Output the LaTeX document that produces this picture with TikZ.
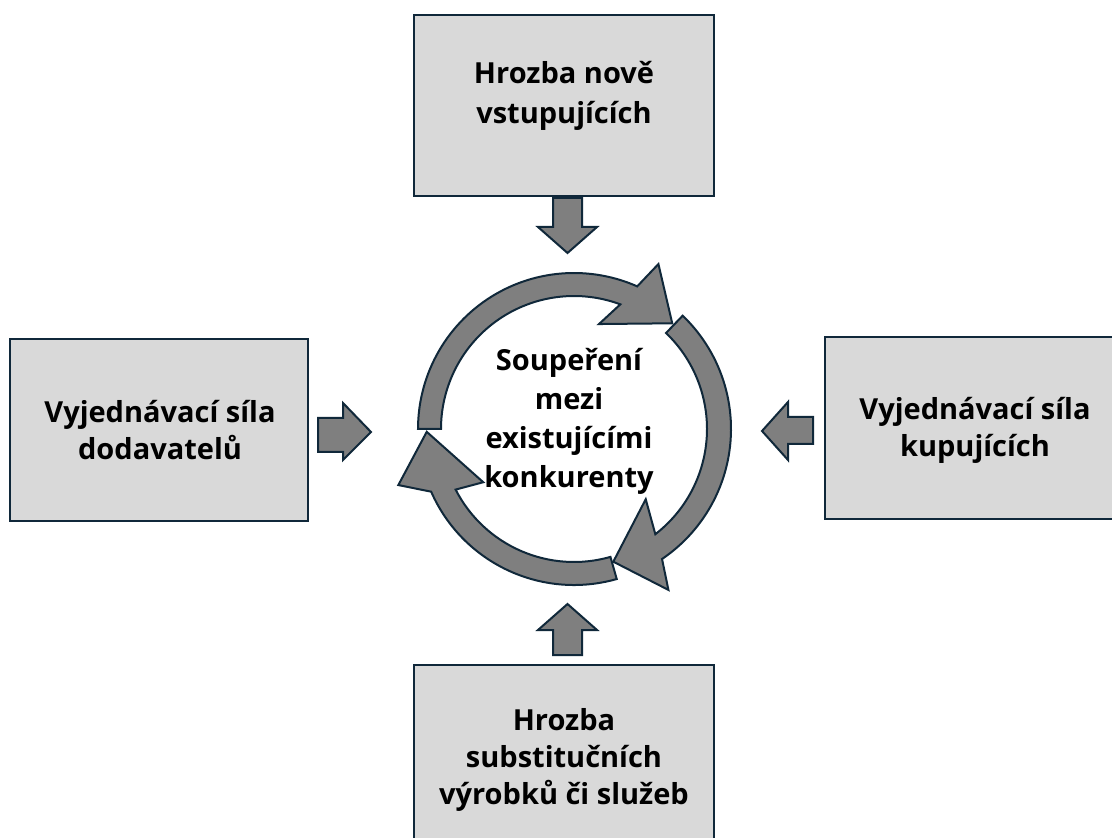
\documentclass[tikz,border=0pt]{standalone}
\usepackage{fontspec}
\setmainfont{Open Sans}
\definecolor{boxfill}{HTML}{D9D9D9}
\definecolor{edgec}{HTML}{10283A}
\definecolor{arrfill}{HTML}{7F7F7F}
\begin{document}
\begin{tikzpicture}[x=0.5pt,y=-0.5pt,
  boxst/.style={draw=edgec, fill=boxfill, line width=1.2pt, rectangle, inner sep=0pt},
  lbl/.style={align=center, font=\fontsize{14.5}{18.5}\selectfont\bfseries, text=black, inner sep=0pt},
  blockarr/.style={draw=edgec, fill=arrfill, line width=1pt, line join=miter},
  cyc/.style={draw=edgec, fill=arrfill, line width=1pt, line join=miter}]
\clip (0,0) rectangle (1112,838);
\fill[white] (0,0) rectangle (1112,838);
% boxes
\node[boxst, minimum width=150pt, minimum height=90.5pt] (top) at (564,105.5) {};
\node[boxst, minimum width=149pt, minimum height=91pt] (left) at (159,430) {};
\node[boxst, minimum width=150pt, minimum height=91pt] (right) at (975,428) {};
\node[boxst, minimum width=150pt, minimum height=90.5pt] (bottom) at (564,755.5) {};
% labels
\node[lbl, font=\fontsize{14.5}{20}\selectfont\bfseries] (ttop) at (564,96) {Hrozba nově\\vstupujících};
\node[lbl] (tleft) at (160,430) {Vyjednávací síla\\dodavatelů};
\node[lbl] (tright) at (975,430) {Vyjednávací síla\\kupujících};
\node[lbl] (tbottom) at (564,760) {Hrozba\\substitučních\\výrobků či služeb};
\node[lbl, font=\fontsize{14.5}{19.5}\selectfont\bfseries] (tcenter) at (569,421) {Soupeření\\mezi\\existujícími\\konkurenty};
% block arrows
\draw[blockarr] (553,198) -- (582,198) -- (582,227) -- (597,227) -- (567.5,253) -- (538,227) -- (553,227) -- cycle;
\draw[blockarr] (318,418) -- (343,418) -- (343,403) -- (371,432) -- (343,460) -- (343,452) -- (318,452) -- cycle;
\draw[blockarr] (813,417) -- (788,417) -- (788,402) -- (762,431) -- (788,460) -- (788,444) -- (813,444) -- cycle;
\draw[blockarr] (553,655) -- (553,630) -- (538,630) -- (567.5,604) -- (597,630) -- (582,630) -- (582,655) -- cycle;
% cycle arrows
\begin{scope}[shift={(574,429)}, yscale=-1]
\draw[cyc] (180:156) arc[start angle=180, end angle=66.1, radius=156] -- (62.9:185.3) -- (47.1:144.3) -- (76.6:107.9) -- (69.6:133) arc[start angle=69.6, end angle=180, radius=133] -- cycle;
\draw[cyc] (46.2:157) arc[start angle=46.2, end angle=-55.9, radius=157] -- (-59.6:186.6) -- (-73.5:138.4) -- (-44.4:100.4) -- (-52.3:133) arc[start angle=-52.3, end angle=46.2, radius=133] -- cycle;
\draw[cyc] (-74.1:156) arc[start angle=-74.1, end angle=-156.3, radius=156] -- (-162.3:184.4) -- (-178.9:147.3) -- (-149.6:105.2) -- (-152.9:133) arc[start angle=-152.9, end angle=-74.1, radius=133] -- cycle;
\end{scope}
\end{tikzpicture}
\end{document}
